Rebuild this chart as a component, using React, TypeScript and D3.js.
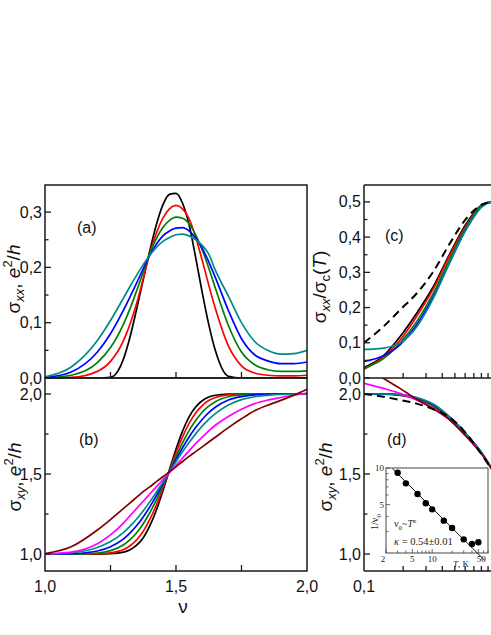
import React from "react";
import * as d3 from "d3";

// ---------- Panel (a)/(b) data: filling factor grid ----------
const nuGrid = [1.0, 1.1, 1.2, 1.25, 1.3, 1.325, 1.35, 1.375, 1.4, 1.425, 1.45, 1.475, 1.5, 1.525, 1.55, 1.575, 1.6, 1.625, 1.65, 1.7, 1.75, 1.8, 1.85, 1.9, 1.95, 2.0];

const sxxBlack = [0, 0, 0, 0.001, 0.035, 0.075, 0.125, 0.178, 0.23, 0.277, 0.313, 0.332, 0.334, 0.316, 0.277, 0.218, 0.155, 0.097, 0.05, 0.003, 0, 0, 0, 0, 0, 0];
const sxxRed = [0, 0.001, 0.012, 0.03, 0.068, 0.098, 0.135, 0.18, 0.226, 0.262, 0.289, 0.306, 0.312, 0.306, 0.288, 0.255, 0.213, 0.168, 0.126, 0.058, 0.022, 0.009, 0.005, 0.004, 0.004, 0.005];
const sxxGreen = [0, 0.005, 0.028, 0.055, 0.098, 0.126, 0.158, 0.192, 0.225, 0.252, 0.272, 0.285, 0.291, 0.289, 0.279, 0.259, 0.232, 0.199, 0.163, 0.095, 0.047, 0.024, 0.015, 0.012, 0.012, 0.013];
const sxxBlue = [0.001, 0.011, 0.047, 0.08, 0.123, 0.147, 0.172, 0.198, 0.222, 0.242, 0.257, 0.266, 0.271, 0.272, 0.266, 0.253, 0.235, 0.21, 0.182, 0.122, 0.071, 0.042, 0.031, 0.026, 0.026, 0.029];
const sxxTeal = [0.002, 0.02, 0.068, 0.104, 0.145, 0.166, 0.186, 0.205, 0.222, 0.236, 0.247, 0.254, 0.259, 0.26, 0.257, 0.25, 0.24, 0.224, 0.195, 0.148, 0.1, 0.066, 0.05, 0.043, 0.044, 0.05];

const sxyBlack = [1, 1, 1, 1.002, 1.012, 1.027, 1.055, 1.102, 1.176, 1.274, 1.395, 1.527, 1.655, 1.768, 1.857, 1.919, 1.958, 1.981, 1.992, 1.999, 2, 2, 2, 2, 2, 2];
const sxyRed = [1, 1, 1.001, 1.007, 1.028, 1.052, 1.089, 1.142, 1.216, 1.306, 1.411, 1.522, 1.632, 1.732, 1.816, 1.881, 1.928, 1.959, 1.978, 1.995, 1.999, 2, 2, 2, 2, 2];
const sxyGreen = [1, 1, 1.006, 1.021, 1.058, 1.09, 1.133, 1.189, 1.258, 1.338, 1.427, 1.518, 1.609, 1.695, 1.771, 1.834, 1.886, 1.924, 1.952, 1.983, 1.995, 1.999, 2, 2, 2, 2];
const sxyBlue = [1, 1.002, 1.019, 1.046, 1.095, 1.132, 1.178, 1.232, 1.295, 1.365, 1.439, 1.515, 1.591, 1.664, 1.731, 1.79, 1.841, 1.883, 1.917, 1.962, 1.984, 1.995, 1.998, 2, 2, 2];
const sxyTeal = [1.001, 1.008, 1.041, 1.078, 1.136, 1.175, 1.219, 1.27, 1.326, 1.386, 1.449, 1.513, 1.577, 1.639, 1.697, 1.751, 1.799, 1.841, 1.877, 1.931, 1.965, 1.983, 1.992, 1.997, 1.999, 2];
const sxyMagenta = [1, 1.012, 1.065, 1.12, 1.195, 1.24, 1.285, 1.33, 1.375, 1.42, 1.465, 1.51, 1.555, 1.6, 1.645, 1.69, 1.73, 1.77, 1.805, 1.86, 1.905, 1.94, 1.962, 1.978, 1.992, 2.005];
const sxyBrown = [1.003, 1.045, 1.15, 1.215, 1.285, 1.32, 1.355, 1.39, 1.42, 1.452, 1.483, 1.513, 1.545, 1.578, 1.61, 1.64, 1.67, 1.7, 1.73, 1.79, 1.845, 1.895, 1.93, 1.96, 1.993, 2.03];

// ---------- Panel (c)/(d) data: log x grid ----------
const xGrid = [0.1, 0.141, 0.189, 0.254, 0.341, 0.459, 0.616, 0.828, 1.0, 1.3];

const cDashed = [0.1, 0.146, 0.193, 0.24, 0.302, 0.383, 0.454, 0.494, 0.5, 0.5];
const cBlack = [0.03, 0.063, 0.117, 0.184, 0.259, 0.354, 0.44, 0.494, 0.5, 0.5];
const cRed = [0.025, 0.06, 0.107, 0.175, 0.253, 0.35, 0.435, 0.493, 0.5, 0.5];
const cGreen = [0.027, 0.055, 0.099, 0.16, 0.24, 0.34, 0.43, 0.493, 0.5, 0.5];
const cBlue = [0.047, 0.063, 0.094, 0.151, 0.231, 0.33, 0.425, 0.49, 0.5, 0.5];
const cTeal = [0.081, 0.085, 0.099, 0.145, 0.226, 0.33, 0.425, 0.49, 0.5, 0.5];

const dDashed = [2.0, 1.983, 1.963, 1.94, 1.905, 1.852, 1.75, 1.606, 1.51, 1.38];
const dBlack = [2.0, 1.999, 1.993, 1.97, 1.925, 1.843, 1.74, 1.615, 1.51, 1.38];
const dRed = [2.0, 1.999, 1.994, 1.972, 1.928, 1.846, 1.742, 1.616, 1.51, 1.38];
const dGreen = [2.0, 2.0, 1.995, 1.974, 1.931, 1.849, 1.744, 1.617, 1.51, 1.38];
const dBlue = [2.0, 2.0, 1.996, 1.976, 1.934, 1.852, 1.746, 1.618, 1.51, 1.38];
const dTeal = [2.0, 2.0, 1.997, 1.978, 1.937, 1.855, 1.748, 1.619, 1.51, 1.38];
const dMagenta = [2.067, 2.035, 2.004, 1.962, 1.91, 1.838, 1.733, 1.612, 1.51, 1.38];
const dBrown = [2.17, 2.098, 2.035, 1.967, 1.908, 1.836, 1.732, 1.611, 1.51, 1.38];

// ---------- Inset data ----------
const insetT = [3, 4, 6, 8, 10, 15, 20, 30, 40, 50];
const insetInvNu = [9.15, 7.48, 6.11, 5.13, 4.57, 3.69, 3.21, 2.59, 2.37, 2.45];
const fitT = [2.5, 62];
const fitInvNu = [9.88, 1.745];

// ---------- ticks ----------
const ticksAY = [0, 0.1, 0.2, 0.3];
const minorAY = [0.05, 0.15, 0.25];
const ticksBY = [1.0, 1.5, 2.0];
const minorBY = [1.25, 1.75];
const ticksNuLabels = [1.0, 1.5, 2.0];
const ticksNuInner = [1.25, 1.5, 1.75];
const ticksCY = [0, 0.1, 0.2, 0.3, 0.4, 0.5];
const minorCY = [0.05, 0.15, 0.25, 0.35, 0.45];
const logMinor = [0.2, 0.3, 0.4, 0.5, 0.6, 0.7, 0.8, 0.9, 2, 3];
const insetXLabels = [2, 5, 10, 50];
const insetYLabels = [5, 10];
const insetXMinor = [3, 4, 6, 7, 8, 9, 20, 30, 40, 60, 70];
const insetYMinor = [3, 4, 6, 7, 8, 9];

const COL = {
  black: "#000000",
  red: "#ff0000",
  green: "#008000",
  blue: "#0000ff",
  teal: "#008b8b",
  magenta: "#ff00ff",
  brown: "#800000",
};

const SANS = "'Liberation Sans', Arial, Helvetica, sans-serif";
const SERIF = "'Liberation Serif', 'Times New Roman', serif";
const fmt = (v: number) => d3.format(".1f")(v).replace(".", ",");

export default function App() {
  const xA = d3.scaleLinear().domain([1, 2]).range([45, 307]);
  const yA = d3.scaleLinear().domain([0, 0.349]).range([378, 185]);
  const yB = d3.scaleLinear().domain([0.894, 2.1]).range([571, 378]);
  const xC = d3.scaleLog().domain([0.1, 10]).range([364, 624]);
  const yC = d3.scaleLinear().domain([0, 0.548]).range([378, 185]);
  const yD = yB;
  const xI = d3.scaleLog().domain([2, 70]).range([386, 488]);
  const yI = d3.scaleLog().domain([2, 10]).range([553, 468]);

  const mk = (xs: number[], ys: number[], sx: any, sy: any) =>
    d3.line().curve(d3.curveMonotoneX)(xs.map((x, i) => [sx(x), sy(ys[i])] as [number, number])) || "";

  const aSeries = [
    [sxxBlack, COL.black],
    [sxxRed, COL.red],
    [sxxGreen, COL.green],
    [sxxBlue, COL.blue],
    [sxxTeal, COL.teal],
  ] as [number[], string][];
  const bSeries = [
    [sxyBlack, COL.black],
    [sxyRed, COL.red],
    [sxyGreen, COL.green],
    [sxyBlue, COL.blue],
    [sxyTeal, COL.teal],
    [sxyMagenta, COL.magenta],
    [sxyBrown, COL.brown],
  ] as [number[], string][];
  const cSeries = [
    [cBlack, COL.black],
    [cRed, COL.red],
    [cGreen, COL.green],
    [cBlue, COL.blue],
    [cTeal, COL.teal],
  ] as [number[], string][];
  const dSeries = [
    [dBlack, COL.black],
    [dRed, COL.red],
    [dGreen, COL.green],
    [dBlue, COL.blue],
    [dTeal, COL.teal],
    [dMagenta, COL.magenta],
    [dBrown, COL.brown],
  ] as [number[], string][];

  const frame = "#1a1a1a";
  const fw = 1.5;
  const lw = 1.7;

  const yTicks = (x0: number, sy: any, major: number[], minor: number[], labels: boolean, keyp: string) => (
    <g key={keyp}>
      {major.map((v) => (
        <line key={"M" + v} x1={x0} x2={x0 + 6} y1={sy(v)} y2={sy(v)} stroke={frame} strokeWidth={1.3} />
      ))}
      {minor.map((v) => (
        <line key={"m" + v} x1={x0} x2={x0 + 3.5} y1={sy(v)} y2={sy(v)} stroke={frame} strokeWidth={1.3} />
      ))}
      {labels &&
        major.map((v) => (
          <text key={"L" + v} x={x0 - 3} y={sy(v) + 5.5} textAnchor="end" fontSize={16} fontFamily={SANS} fill="#111">
            {fmt(v)}
          </text>
        ))}
    </g>
  );

  return (
    <svg width={491} height={635} style={{ position: "absolute", left: 0, top: 0, background: "#fff" }}>
      <defs>
        <clipPath id="clipA"><rect x={45} y={185} width={262} height={193} /></clipPath>
        <clipPath id="clipB"><rect x={45} y={378} width={262} height={193} /></clipPath>
        <clipPath id="clipC"><rect x={364} y={185} width={260} height={193} /></clipPath>
        <clipPath id="clipD"><rect x={364} y={378} width={260} height={193} /></clipPath>
      </defs>

      {/* ---- curves (a) ---- */}
      <g clipPath="url(#clipA)" fill="none">
        {aSeries.map(([ys, c], i) => (
          <path key={i} d={mk(nuGrid, ys, xA, yA)} stroke={c} strokeWidth={lw} />
        ))}
      </g>
      {/* ---- curves (b) ---- */}
      <g clipPath="url(#clipB)" fill="none">
        {bSeries.map(([ys, c], i) => (
          <path key={i} d={mk(nuGrid, ys, xA, yB)} stroke={c} strokeWidth={lw} />
        ))}
      </g>
      {/* ---- curves (c) ---- */}
      <g clipPath="url(#clipC)" fill="none">
        {cSeries.map(([ys, c], i) => (
          <path key={i} d={mk(xGrid, ys, xC, yC)} stroke={c} strokeWidth={lw} />
        ))}
        <path d={mk(xGrid, cDashed, xC, yC)} stroke="#000" strokeWidth={2} strokeDasharray="8,5" />
      </g>
      {/* ---- curves (d) ---- */}
      <g clipPath="url(#clipD)" fill="none">
        {dSeries.map(([ys, c], i) => (
          <path key={i} d={mk(xGrid, ys, xC, yD)} stroke={c} strokeWidth={lw} />
        ))}
        <path d={mk(xGrid, dDashed, xC, yD)} stroke="#000" strokeWidth={2} strokeDasharray="8,5" />
      </g>

      {/* ---- frames ---- */}
      <g fill="none" stroke={frame} strokeWidth={fw}>
        <rect x={45} y={185} width={262} height={193} />
        <rect x={45} y={378} width={262} height={193} />
        <line x1={364} x2={500} y1={185} y2={185} />
        <line x1={364} x2={500} y1={378} y2={378} />
        <line x1={364} x2={500} y1={571} y2={571} />
        <line x1={364} x2={364} y1={185} y2={571} />
      </g>

      {/* ---- y ticks ---- */}
      {yTicks(45, yA, ticksAY, minorAY, true, "ya")}
      {yTicks(45, yB, ticksBY, minorBY, true, "yb")}
      {yTicks(364, yC, ticksCY, minorCY, true, "yc")}
      {yTicks(364, yD, ticksBY, minorBY, true, "yd")}

      {/* ---- x ticks (a)/(b) ---- */}
      {ticksNuInner.map((v) => (
        <g key={"nx" + v} stroke={frame} strokeWidth={1.3}>
          <line x1={xA(v)} x2={xA(v)} y1={378} y2={372} />
          <line x1={xA(v)} x2={xA(v)} y1={571} y2={565} />
        </g>
      ))}
      {ticksNuLabels.map((v) => (
        <text key={"nl" + v} x={xA(v)} y={592} textAnchor="middle" fontSize={16} fontFamily={SANS} fill="#111">
          {fmt(v)}
        </text>
      ))}
      <text x={183} y={613} textAnchor="middle" fontSize={19} fontFamily={SANS} fill="#111">ν</text>

      {/* ---- x ticks (c)/(d) ---- */}
      {logMinor.map((v) => (
        <g key={"lx" + v} stroke={frame} strokeWidth={1.3}>
          <line x1={xC(v)} x2={xC(v)} y1={378} y2={373} />
          <line x1={xC(v)} x2={xC(v)} y1={571} y2={566} />
        </g>
      ))}
      <g stroke={frame} strokeWidth={1.3}>
        <line x1={xC(1)} x2={xC(1)} y1={378} y2={371} />
        <line x1={xC(1)} x2={xC(1)} y1={571} y2={564} />
      </g>
      <text x={xC(0.1)} y={592} textAnchor="middle" fontSize={16} fontFamily={SANS} fill="#111">0,1</text>

      {/* ---- panel labels ---- */}
      <text x={77} y={233} fontSize={16} fontFamily={SANS} fill="#111">(a)</text>
      <text x={79} y={445} fontSize={16} fontFamily={SANS} fill="#111">(b)</text>
      <text x={385} y={241} fontSize={16} fontFamily={SANS} fill="#111">(c)</text>
      <text x={387} y={445} fontSize={16} fontFamily={SANS} fill="#111">(d)</text>

      {/* ---- y axis titles ---- */}
      <text transform="translate(20,279) rotate(-90)" textAnchor="middle" fontSize={19} fontFamily={SANS} fill="#111">
        σ<tspan fontSize={13} fontStyle="italic" dy={4}>xx</tspan>
        <tspan dy={-4}>, </tspan>
        <tspan fontStyle="italic">e</tspan>
        <tspan fontSize={13} dy={-8}>2</tspan>
        <tspan dy={8}>/</tspan>
        <tspan fontStyle="italic">h</tspan>
      </text>
      <text transform="translate(21,477) rotate(-90)" textAnchor="middle" fontSize={19} fontFamily={SANS} fill="#111">
        σ<tspan fontSize={13} fontStyle="italic" dy={4}>xy</tspan>
        <tspan dy={-4}>, </tspan>
        <tspan fontStyle="italic">e</tspan>
        <tspan fontSize={13} dy={-8}>2</tspan>
        <tspan dy={8}>/</tspan>
        <tspan fontStyle="italic">h</tspan>
      </text>
      <text transform="translate(326,287) rotate(-90)" textAnchor="middle" fontSize={19} fontFamily={SANS} fill="#111">
        σ<tspan fontSize={13} fontStyle="italic" dy={4}>xx</tspan>
        <tspan dy={-4}>/σ</tspan>
        <tspan fontSize={13} dy={4}>c</tspan>
        <tspan dy={-4}>(</tspan>
        <tspan fontStyle="italic">T</tspan>
        <tspan>)</tspan>
      </text>
      <text transform="translate(332,477) rotate(-90)" textAnchor="middle" fontSize={19} fontFamily={SANS} fill="#111">
        σ<tspan fontSize={13} fontStyle="italic" dy={4}>xy</tspan>
        <tspan dy={-4}>, </tspan>
        <tspan fontStyle="italic">e</tspan>
        <tspan fontSize={13} dy={-8}>2</tspan>
        <tspan dy={8}>/</tspan>
        <tspan fontStyle="italic">h</tspan>
      </text>

      {/* ---- inset ---- */}
      <g>
        <rect x={386} y={468} width={102} height={85} fill="none" stroke="#444" strokeWidth={1} />
        {insetYMinor.map((v) => (
          <line key={"iym" + v} x1={386} x2={388.5} y1={yI(v)} y2={yI(v)} stroke="#444" strokeWidth={0.8} />
        ))}
        {insetYLabels.map((v) => (
          <g key={"iy" + v}>
            <line x1={386} x2={390} y1={yI(v)} y2={yI(v)} stroke="#444" strokeWidth={0.8} />
            <text x={384} y={yI(v) + 3} textAnchor="end" fontSize={9} fontFamily={SERIF} fill="#222">{v}</text>
          </g>
        ))}
        {insetXMinor.map((v) => (
          <line key={"ixm" + v} x1={xI(v)} x2={xI(v)} y1={553} y2={550.5} stroke="#444" strokeWidth={0.8} />
        ))}
        {insetXLabels.map((v) => (
          <g key={"ix" + v}>
            <line x1={xI(v)} x2={xI(v)} y1={553} y2={549} stroke="#444" strokeWidth={0.8} />
            <text x={xI(v) + (v === 2 ? -3 : v === 50 ? 3 : 0)} y={562} textAnchor="middle" fontSize={9} fontFamily={SERIF} fill="#222">{v}</text>
          </g>
        ))}
        <path d={d3.line()(fitT.map((t, i) => [xI(t), yI(fitInvNu[i])] as [number, number])) || ""} stroke="#111" strokeWidth={1} fill="none" />
        {insetT.map((t, i) => (
          <circle key={"p" + t} cx={xI(t)} cy={yI(insetInvNu[i])} r={3.2} fill="#000" />
        ))}
        <text transform="translate(378,522) rotate(-90)" textAnchor="middle" fontSize={10} fontFamily={SERIF} fill="#222">
          1/ν<tspan fontSize={7} dy={2.5}>0</tspan>
        </text>
        <text x={453} y={567} fontSize={9} fontFamily={SERIF} fill="#222">
          <tspan fontStyle="italic">T</tspan>, K
        </text>
        <text x={394} y={527} fontSize={10} fontFamily={SERIF} fill="#222">
          ν<tspan fontSize={7} dy={2.5}>0</tspan>
          <tspan dy={-2.5}>~</tspan>
          <tspan fontStyle="italic">T</tspan>
          <tspan fontSize={7} fontStyle="italic" dy={-4}>κ</tspan>
        </text>
        <text x={394} y={545} fontSize={10.5} fontFamily={SERIF} fill="#222">
          <tspan fontStyle="italic">κ</tspan> = 0.54±0.01
        </text>
      </g>
    </svg>
  );
}
